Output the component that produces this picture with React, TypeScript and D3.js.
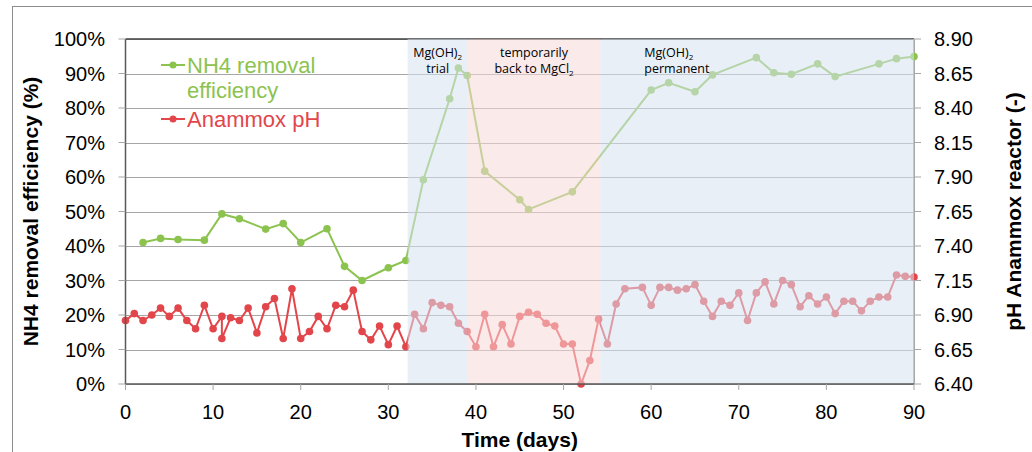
import React from 'react';
import * as d3 from 'd3';

const W = 1032;
const H = 452;

const xTickValues = [0, 10, 20, 30, 40, 50, 60, 70, 80, 90];
const leftTickValues = [0, 10, 20, 30, 40, 50, 60, 70, 80, 90, 100];
const leftTickLabels = ['0%', '10%', '20%', '30%', '40%', '50%', '60%', '70%', '80%', '90%', '100%'];
const rightTickValues = [6.4, 6.65, 6.9, 7.15, 7.4, 7.65, 7.9, 8.15, 8.4, 8.65, 8.9];
const rightTickLabels = ['6.40', '6.65', '6.90', '7.15', '7.40', '7.65', '7.90', '8.15', '8.40', '8.65', '8.90'];

const nh4Days = [2, 4, 6, 9, 11, 13, 16, 18, 20, 23, 25, 27, 30, 32, 34, 37, 38, 39, 41, 45, 46, 51, 60, 62, 65, 67, 72, 74, 76, 79, 81, 86, 88, 90];
const nh4Values = [41.0, 42.2, 41.9, 41.7, 49.3, 47.9, 44.9, 46.5, 41.0, 45.0, 34.1, 30.0, 33.7, 35.8, 59.2, 82.7, 91.6, 89.4, 61.7, 53.4, 50.6, 55.7, 85.2, 87.3, 84.7, 89.6, 94.6, 90.2, 89.8, 92.8, 89.1, 92.8, 94.3, 94.9];

const phDays = [0, 1, 2, 3, 4, 5, 6, 7, 8, 9, 10, 11, 11, 12, 13, 14, 15, 16, 17, 18, 19, 20, 21, 22, 23, 24, 25, 26, 27, 28, 29, 30, 31, 32, 33, 34, 35, 36, 37, 38, 39, 40, 41, 42, 43, 44, 45, 46, 47, 48, 49, 50, 51, 52, 53, 54, 55, 56, 57, 59, 60, 61, 62, 63, 64, 65, 66, 67, 68, 69, 70, 71, 72, 73, 74, 75, 76, 77, 78, 79, 80, 81, 82, 83, 84, 85, 86, 87, 88, 89, 90];
const phValues = [6.86, 6.91, 6.86, 6.90, 6.95, 6.89, 6.95, 6.86, 6.80, 6.97, 6.80, 6.89, 6.73, 6.88, 6.86, 6.95, 6.77, 6.96, 7.02, 6.73, 7.09, 6.73, 6.78, 6.89, 6.80, 6.97, 6.96, 7.08, 6.78, 6.72, 6.82, 6.685, 6.82, 6.67, 6.905, 6.80, 6.99, 6.97, 6.96, 6.84, 6.78, 6.67, 6.905, 6.67, 6.83, 6.69, 6.89, 6.92, 6.905, 6.84, 6.82, 6.69, 6.69, 6.40, 6.57, 6.87, 6.69, 6.98, 7.09, 7.10, 6.97, 7.10, 7.10, 7.08, 7.09, 7.12, 7.00, 6.89, 7.00, 6.97, 7.06, 6.86, 7.06, 7.14, 6.98, 7.15, 7.12, 6.96, 7.04, 6.98, 7.03, 6.91, 7.00, 7.00, 6.93, 7.00, 7.03, 7.03, 7.19, 7.18, 7.175];

const periodStarts = [32.2, 39.06, 54.2];
const periodEnds = [39.06, 54.2, 90];
const periodColors = ['#d7e2f0', '#f8d9d9', '#d7e2f0'];

const GREEN = '#8cc34f';
const RED = '#e2464b';
const FONT = '"Liberation Sans", Arial, sans-serif';
const NOTE_FONT = '"Open Sans", "Liberation Sans", sans-serif';

export default function App() {
  const x = d3.scaleLinear().domain([0, 90]).range([125.5, 914]);
  const yL = d3.scaleLinear().domain([0, 100]).range([384, 39]);
  const yR = d3.scaleLinear().domain([6.4, 8.9]).range([384, 39]);

  const nh4Line = d3.line<number>().x((_, i) => x(nh4Days[i])).y((d) => yL(d));
  const phLine = d3.line<number>().x((_, i) => x(phDays[i])).y((d) => yR(d));

  const [x0, x1] = x.range();
  const [yb, yt] = yL.range();

  return (
    <svg width={W} height={H} style={{ position: 'absolute', left: 0, top: 0, background: '#fff' }}>
      <rect x={0} y={0} width={W} height={H} fill="#fff" />
      <rect x={12.5} y={6.5} width={1100} height={500} fill="none" stroke="#8c8c8c" strokeWidth={1} />

      {/* gridlines */}
      {leftTickValues.map((v) => (
        <line key={'g' + v} x1={x0} x2={x1} y1={Math.round(yL(v)) + 0.5} y2={Math.round(yL(v)) + 0.5} stroke="#a6a6a6" strokeWidth={1} />
      ))}
      {/* top and right border */}
      <line x1={x0} x2={x1} y1={yt} y2={yt} stroke="#404040" strokeWidth={1.5} />
      <line x1={x1} x2={x1} y1={yt} y2={yb} stroke="#8c8c8c" strokeWidth={1.5} />

      {/* series */}
      <path d={nh4Line(nh4Values) || ''} fill="none" stroke={GREEN} strokeWidth={2} />
      {nh4Values.map((v, i) => (
        <circle key={'n' + i} cx={x(nh4Days[i])} cy={yL(v)} r={3.8} fill={GREEN} />
      ))}
      <path d={phLine(phValues) || ''} fill="none" stroke={RED} strokeWidth={2} />
      {phValues.map((v, i) => (
        <circle key={'p' + i} cx={x(phDays[i])} cy={yR(v)} r={3.8} fill={RED} />
      ))}

      {/* period overlays */}
      {periodStarts.map((s, i) => (
        <rect key={'o' + i} x={x(s)} y={yt} width={x(periodEnds[i]) - x(s)} height={yb - yt} fill={periodColors[i]} fillOpacity={0.55} />
      ))}

      {/* axes */}
      <line x1={x0} x2={x0} y1={yt} y2={yb} stroke="#595959" strokeWidth={1.5} />
      <line x1={x0} x2={x1} y1={yb} y2={yb} stroke="#595959" strokeWidth={1.5} />
      {leftTickValues.map((v) => (
        <line key={'lt' + v} x1={x0 - 7} x2={x0} y1={yL(v)} y2={yL(v)} stroke="#a6a6a6" strokeWidth={1} />
      ))}
      {rightTickValues.map((v) => (
        <line key={'rt' + v} x1={x1} x2={x1 + 7} y1={yR(v)} y2={yR(v)} stroke="#a6a6a6" strokeWidth={1} />
      ))}
      {xTickValues.map((v) => (
        <line key={'xt' + v} x1={x(v)} x2={x(v)} y1={yb} y2={yb + 6} stroke="#a6a6a6" strokeWidth={1} />
      ))}

      {leftTickValues.map((v, i) => (
        <text key={'ll' + v} x={105} y={yL(v)} dy="0.35em" textAnchor="end" fontFamily={FONT} fontSize={20} fill="#000">
          {leftTickLabels[i]}
        </text>
      ))}
      {rightTickValues.map((v, i) => (
        <text key={'rl' + v} x={934} y={yR(v)} dy="0.35em" textAnchor="start" fontFamily={FONT} fontSize={20} fill="#000">
          {rightTickLabels[i]}
        </text>
      ))}
      {xTickValues.map((v) => (
        <text key={'xl' + v} x={x(v)} y={419} textAnchor="middle" fontFamily={FONT} fontSize={20} fill="#000">
          {v}
        </text>
      ))}

      {/* axis titles */}
      <text transform={`translate(38,${(yt + yb) / 2}) rotate(-90)`} textAnchor="middle" fontFamily={FONT} fontSize={21} fontWeight="bold" fill="#000">
        NH4 removal efficiency (%)
      </text>
      <text transform={`translate(1021,${(yt + yb) / 2}) rotate(-90)`} textAnchor="middle" fontFamily={FONT} fontSize={21} fontWeight="bold" fill="#000">
        pH Anammox reactor (-)
      </text>
      <text x={(x0 + x1) / 2} y={447} textAnchor="middle" fontFamily={FONT} fontSize={21} fontWeight="bold" fill="#000">
        Time (days)
      </text>

      {/* period notes */}
      <text x={(x(periodStarts[0]) + x(periodEnds[0])) / 2} y={57} textAnchor="middle" fontFamily={NOTE_FONT} fontSize={12.5} fill="#000">
        Mg(OH)<tspan fontSize={8} dy={3}>2</tspan>
      </text>
      <text x={(x(periodStarts[0]) + x(periodEnds[0])) / 2} y={73} textAnchor="middle" fontFamily={NOTE_FONT} fontSize={12.5} fill="#000">
        trial
      </text>
      <text x={(x(periodStarts[1]) + x(periodEnds[1])) / 2} y={57} textAnchor="middle" fontFamily={NOTE_FONT} fontSize={12.5} fill="#000">
        temporarily
      </text>
      <text x={(x(periodStarts[1]) + x(periodEnds[1])) / 2} y={73} textAnchor="middle" fontFamily={NOTE_FONT} fontSize={12.5} fill="#000">
        back to MgCl<tspan fontSize={8} dy={3}>2</tspan>
      </text>
      <text x={x(periodStarts[2]) + 44} y={57} textAnchor="start" fontFamily={NOTE_FONT} fontSize={12.5} fill="#000">
        Mg(OH)<tspan fontSize={8} dy={3}>2</tspan>
      </text>
      <text x={x(periodStarts[2]) + 44} y={73} textAnchor="start" fontFamily={NOTE_FONT} fontSize={12.5} fill="#000">
        permanent
      </text>

      {/* legend */}
      <line x1={161} x2={185} y1={65} y2={65} stroke={GREEN} strokeWidth={2} />
      <circle cx={173} cy={65} r={3.5} fill={GREEN} />
      <text x={187} y={73} fontFamily={FONT} fontSize={22} fill={GREEN}>NH4 removal</text>
      <text x={187} y={98} fontFamily={FONT} fontSize={22} fill={GREEN}>efficiency</text>
      <line x1={161} x2={185} y1={119} y2={119} stroke={RED} strokeWidth={2} />
      <circle cx={173} cy={119} r={3.5} fill={RED} />
      <text x={187} y={127} fontFamily={FONT} fontSize={22} fill={RED}>Anammox pH</text>
    </svg>
  );
}
